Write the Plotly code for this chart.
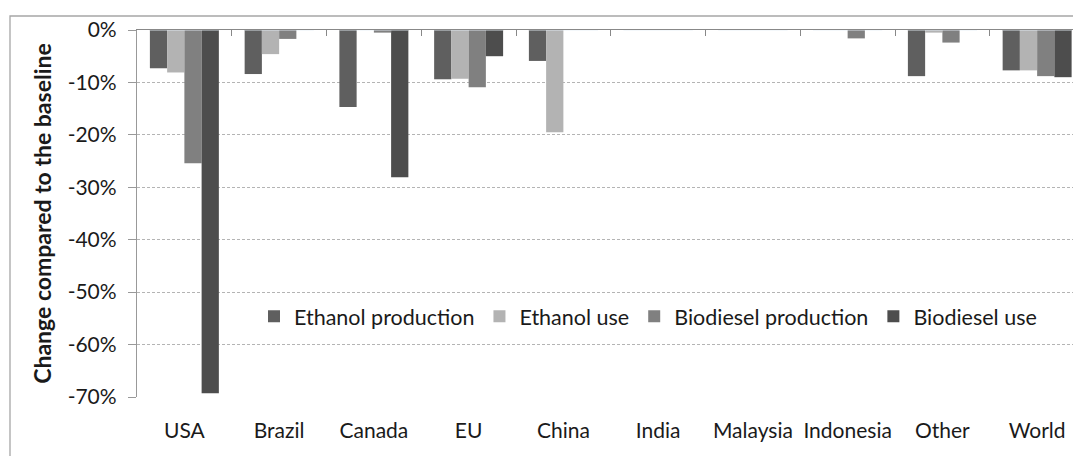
import plotly.graph_objects as go

categories = ["USA", "Brazil", "Canada", "EU", "China", "India", "Malaysia", "Indonesia", "Other", "World"]
ethanol_production = [-7.3, -8.4, -14.7, -9.4, -5.9, 0.0, 0.0, 0.0, -8.8, -7.7]
ethanol_use = [-8.1, -4.6, 0.0, -9.3, -19.5, 0.1, 0.0, 0.0, -0.5, -7.7]
biodiesel_production = [-25.4, -1.7, -0.5, -10.9, 0.0, 0.0, 0.2, -1.6, -2.4, -8.8]
biodiesel_use = [-69.3, 0.0, -28.1, -5.0, 0.0, 0.0, 0.0, 0.0, 0.0, -9.0]
y_ticks = [0, -10, -20, -30, -40, -50, -60, -70]
y_tick_labels = [f"{v}%" for v in y_ticks]

series = [
    ("Ethanol production", ethanol_production, "#5f5f5f"),
    ("Ethanol use", ethanol_use, "#b3b3b3"),
    ("Biodiesel production", biodiesel_production, "#808080"),
    ("Biodiesel use", biodiesel_use, "#4d4d4d"),
]

FONT = "Lato, Carlito, Calibri, sans-serif"
FS = 21

fig = go.Figure()
for name, vals, col in series:
    fig.add_trace(go.Bar(x=categories, y=vals, name=name, marker=dict(color=col, line=dict(width=0))))

# invisible trace on the top axis (for the zero line with boundary ticks)
fig.add_trace(go.Bar(x=categories, y=[0] * len(categories), xaxis="x2", showlegend=False,
                     marker=dict(color="rgba(0,0,0,0)"), hoverinfo="skip"))

W, H = 1073, 456
L, T, B = 137, 30, 59
plot_w = W - L
cat_w = 94.75
x_end = -0.5 + plot_w / cat_w

fig.update_layout(
    width=W, height=H,
    margin=dict(l=L, r=0, t=T, b=B),
    plot_bgcolor="white", paper_bgcolor="white",
    barmode="group", bargap=0.272, bargroupgap=0,
    font=dict(family=FONT, size=FS, color="#1a1a1a"),
    legend=dict(orientation="h", x=0.125, y=0.22, xanchor="left", yanchor="middle",
                font=dict(size=21.5), bgcolor="rgba(0,0,0,0)", itemclick=False),
    xaxis=dict(range=[-0.5, x_end], showline=False, ticks="outside", ticklen=0,
               ticklabelstandoff=15, showgrid=False, fixedrange=True),
    xaxis2=dict(overlaying="x", side="top", anchor="y", range=[-0.5, x_end], matches="x",
                showline=True, linecolor="#888888", linewidth=1.3, ticks="inside", ticklen=6,
                tickcolor="#888888", tickson="boundaries", showticklabels=False, showgrid=False),
    yaxis=dict(range=[-70, 0], tickvals=y_ticks, ticktext=y_tick_labels, showline=True,
               linecolor="#999999", linewidth=1.3, ticks="outside", ticklen=8, tickcolor="#999999",
               ticklabelstandoff=7, showgrid=True, gridcolor="#b4b4b4", griddash="3px,2px",
               zeroline=False,
               title=dict(text="<b>Change compared to the baseline</b>", font=dict(size=23), standoff=9)),
)

# outer chart border (extends beyond the visible window to the right and bottom)
fig.add_shape(type="rect", xref="paper", yref="paper",
              x0=(10 - L) / plot_w, x1=1.1, y0=-0.3, y1=(H - B - 16) / (H - T - B),
              line=dict(color="#a6a6a6", width=1.3), fillcolor="rgba(0,0,0,0)", layer="below")

fig.write_html("out.html", config={"displayModeBar": False},
               post_script="document.body.style.margin='0';document.body.style.overflow='hidden';")
